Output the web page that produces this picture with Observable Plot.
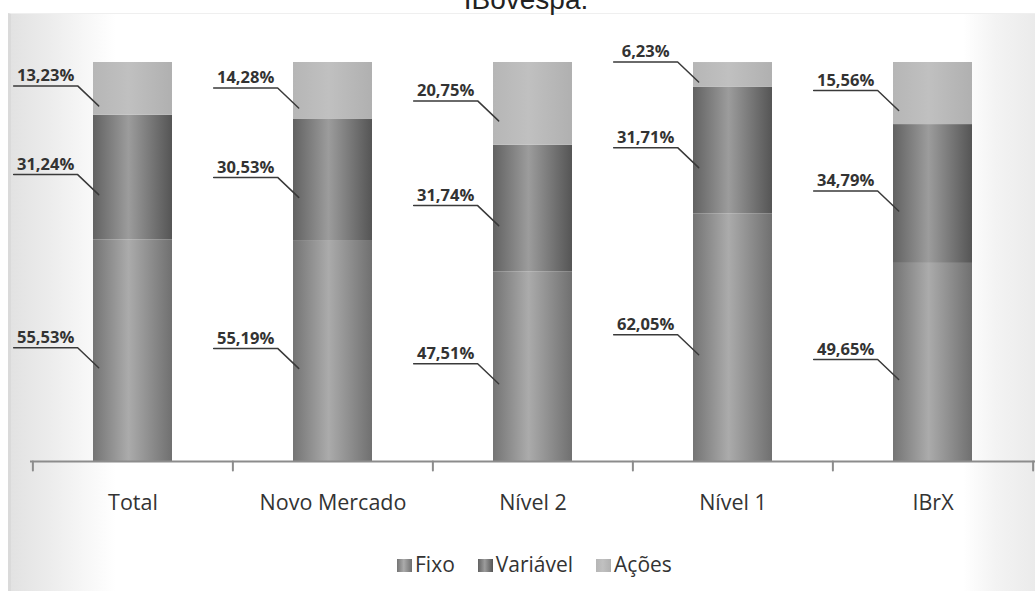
<!DOCTYPE html>
<html>
<head>
<meta charset="utf-8">
<script src="https://cdn.jsdelivr.net/npm/d3@7"></script>
<script src="https://cdn.jsdelivr.net/npm/@observablehq/plot@0.6"></script>
<style>
html,body{margin:0;padding:0;width:1035px;height:591px;overflow:hidden;background:#fff;position:relative;font-family:"Open Sans",sans-serif}
#frame{position:absolute;left:8px;top:13px;width:1027px;height:578px;box-sizing:border-box;border-left:3px solid #dadada;border-top:1px solid #efefef;
  background:linear-gradient(to right,#e2e2e2 0px,#ebebeb 35px,#f7f7f7 75px,#ffffff 105px,#ffffff 952px,#f3f3f3 985px,#eaeaea 1027px)}
#title{position:absolute;left:0;width:1052px;top:-14px;text-align:center;font:28px/28px "Liberation Sans",Arial,sans-serif;color:#222}
#chart{position:absolute;left:0;top:0}
#legend{position:absolute;top:554px;left:397px;display:flex;align-items:center;font-size:21px;line-height:21px;color:#333;font-family:"Open Sans",sans-serif}
#legend .item{display:flex;align-items:center;margin-right:23px}
#legend .sw{width:15px;height:13px;margin-right:3px;margin-top:2px}
</style>
</head>
<body>
<div id="frame"></div>
<div id="chart"></div>
<div id="title">IBovespa.</div>
<div id="legend"></div>
<script>
// ---- data ----
const categories = ["Total", "Novo Mercado", "Nível 2", "Nível 1", "IBrX"];
const series = ["Fixo", "Variável", "Ações"];
const fixo = [55.53, 55.19, 47.51, 62.05, 49.65];
const variavel = [31.24, 30.53, 31.74, 31.71, 34.79];
const acoes = [13.23, 14.28, 20.75, 6.23, 15.56];

const seriesValues = {"Fixo": fixo, "Variável": variavel, "Ações": acoes};
const gradients = {
  "Fixo": [["0%", "#747474"], ["45%", "#ababab"], ["100%", "#707070"]],
  "Variável": [["0%", "#626262"], ["45%", "#9c9c9c"], ["100%", "#555555"]],
  "Ações": [["0%", "#b6b6b6"], ["45%", "#c0c0c0"], ["100%", "#b0b0b0"]]
};
const gradId = {"Fixo": "gFixo", "Variável": "gVar", "Ações": "gAcoes"};

// rows with stack positions (derived from the arrays)
const rows = [];
categories.forEach((c, i) => {
  let base = 0;
  series.forEach(s => {
    const v = seriesValues[s][i];
    rows.push({cat: c, series: s, value: v, mid: base + v / 2});
    base += v;
  });
});
const fmt = v => v.toFixed(2).replace(".", ",") + "%";

// ---- layout ----
const W = 1035, H = 531, ML = 30, MR = 0, MT = 62, MB = 70;
const padIn = 0.607, padOut = 0.313;
const step = (W - ML - MR) / (categories.length - padIn + 2 * padOut);
const bw = step * (1 - padIn);
const small = d => d.value < 10;

const lineShape = {draw(ctx, l) { ctx.moveTo(0, 0); ctx.lineTo(0, -l); }};
const leaderShape = {draw(ctx) { ctx.moveTo(0, 0); ctx.lineTo(64, 0); ctx.lineTo(85, 20); }};

function labelMarks(filter, shift) {
  return [
    Plot.vector(rows, {filter, x: "cat", y: "mid", length: 1, anchor: "start", shape: leaderShape,
      dx: -bw / 2 - 80, dy: -3 + shift, stroke: "#3a3a3a", strokeWidth: 1.5, fill: "none"}),
    Plot.text(rows, {filter, x: "cat", y: "mid", text: d => fmt(d.value),
      dx: -bw / 2 - 48, dy: -13 + shift, fontWeight: "bold", fontSize: 16.5,
      fontFamily: "Open Sans", fill: "#333"})
  ];
}

const defsMark = () => {
  const defs = d3.create("svg:defs");
  series.forEach(s => {
    const g = defs.append("linearGradient").attr("id", gradId[s])
      .attr("x1", "0").attr("x2", "1").attr("y1", "0").attr("y2", "0");
    gradients[s].forEach(([o, c]) => g.append("stop").attr("offset", o).attr("stop-color", c));
  });
  return defs.node();
};

const chart = Plot.plot({
  width: W, height: H,
  marginLeft: ML, marginRight: MR, marginTop: MT, marginBottom: MB,
  style: {background: "transparent", overflow: "visible"},
  x: {domain: categories, paddingInner: padIn, paddingOuter: padOut, align: 0.5, label: null, axis: null},
  y: {domain: [0, 100], axis: null},
  color: {domain: series, range: series.map(s => `url(#${gradId[s]})`)},
  marks: [
    defsMark,
    Plot.barY(rows, Plot.stackY({x: "cat", y: "value", fill: "series"})),
    Plot.ruleY([0], {stroke: "#8c8c8c", strokeWidth: 2}),
    Plot.vector(categories, {x: d => d, y: () => 0, dx: -step / 2, length: 9, rotate: 180, anchor: "start",
      shape: lineShape, stroke: "#8c8c8c", strokeWidth: 2}),
    Plot.vector(categories.slice(-1), {x: d => d, y: () => 0, dx: step / 2, length: 9, rotate: 180, anchor: "start",
      shape: lineShape, stroke: "#8c8c8c", strokeWidth: 2}),
    Plot.axisX({tickSize: 0, tickPadding: 33, fontSize: 21.5, fill: "#333", fontFamily: "Open Sans", label: null}),
    ...labelMarks(d => !small(d), 0),
    ...labelMarks(small, -10)
  ]
});
document.getElementById("chart").appendChild(chart);

// legend
const legend = document.getElementById("legend");
series.forEach(s => {
  const item = document.createElement("div");
  item.className = "item";
  const sw = document.createElement("div");
  sw.className = "sw";
  sw.style.background = `linear-gradient(to right, ${gradients[s].map(([o, c]) => c + " " + o).join(",")})`;
  const t = document.createElement("span");
  t.textContent = s;
  item.appendChild(sw);
  item.appendChild(t);
  legend.appendChild(item);
});
</script>
</body>
</html>
